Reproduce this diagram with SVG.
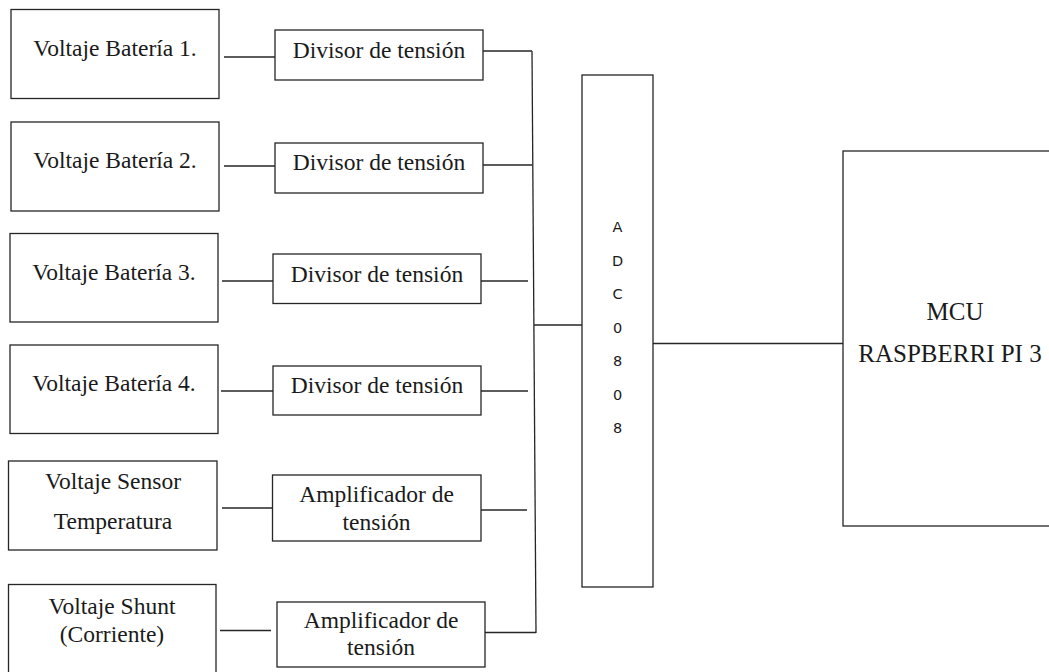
<svg xmlns="http://www.w3.org/2000/svg" width="1049" height="672" viewBox="0 0 1049 672">
<style>
.box{fill:#fff;stroke:#262626;stroke-width:1.3}
.t{font-family:"Liberation Serif","Times New Roman",serif;font-size:23.5px;fill:#1a1a1a;text-anchor:middle}
.adc{font-family:"DejaVu Sans","Liberation Sans",sans-serif;font-size:14.5px;fill:#1a1a1a;text-anchor:middle}
.ln{fill:none;stroke:#262626;stroke-width:1.3}
</style>
<rect width="1049" height="672" fill="#fff"/>
<g id="connectors">
<line class="ln" x1="224" y1="57" x2="275" y2="57"/>
<line class="ln" x1="224" y1="166" x2="275" y2="166"/>
<line class="ln" x1="222" y1="281" x2="273" y2="281"/>
<line class="ln" x1="221" y1="391" x2="273" y2="391"/>
<line class="ln" x1="222" y1="508" x2="272" y2="508"/>
<line class="ln" x1="220" y1="630.5" x2="271" y2="630.5"/>
<line class="ln" x1="483" y1="51" x2="532" y2="51"/>
<line class="ln" x1="483" y1="165" x2="532" y2="165"/>
<line class="ln" x1="481" y1="281" x2="528" y2="281"/>
<line class="ln" x1="481" y1="391" x2="528" y2="391"/>
<line class="ln" x1="481" y1="510" x2="527" y2="510"/>
<line class="ln" x1="485" y1="632.5" x2="536" y2="632.5"/>
<line class="ln" x1="532" y1="51" x2="536" y2="633"/>
<line class="ln" x1="534" y1="325" x2="582" y2="325"/>
<line class="ln" x1="653" y1="343.5" x2="843" y2="343.5"/>
</g>
<g id="v1"><rect class="box" x="11" y="9.5" width="208" height="89"/><text class="t" x="115" y="55.5">Voltaje Batería 1.</text></g>
<g id="v2"><rect class="box" x="11" y="122" width="208" height="89"/><text class="t" x="115" y="168">Voltaje Batería 2.</text></g>
<g id="v3"><rect class="box" x="10" y="233.5" width="208" height="88.5"/><text class="t" x="114" y="280">Voltaje Batería 3.</text></g>
<g id="v4"><rect class="box" x="10" y="345" width="208" height="88.5"/><text class="t" x="114" y="391">Voltaje Batería 4.</text></g>
<g id="vsensor"><rect class="box" x="8.5" y="461" width="208.5" height="89"/><text class="t" x="113" y="489">Voltaje Sensor</text><text class="t" x="113" y="528.5">Temperatura</text></g>
<g id="vshunt"><rect class="box" x="8.5" y="584.5" width="207.5" height="100"/><text class="t" x="112" y="613.5">Voltaje Shunt</text><text class="t" x="112" y="642">(Corriente)</text></g>
<g id="d1"><rect class="box" x="275" y="30" width="208" height="50"/><text class="t" x="379" y="57.5">Divisor de tensión</text></g>
<g id="d2"><rect class="box" x="275" y="143" width="208" height="50"/><text class="t" x="379" y="170">Divisor de tensión</text></g>
<g id="d3"><rect class="box" x="273" y="254" width="208" height="49.5"/><text class="t" x="377" y="281.5">Divisor de tensión</text></g>
<g id="d4"><rect class="box" x="273" y="366" width="208" height="49"/><text class="t" x="377" y="392.5">Divisor de tensión</text></g>
<g id="amp1"><rect class="box" x="272.5" y="475" width="208.5" height="66"/><text class="t" x="376.5" y="502">Amplificador de</text><text class="t" x="376.5" y="529.5">tensión</text></g>
<g id="amp2"><rect class="box" x="277" y="602" width="208" height="65"/><text class="t" x="381" y="628">Amplificador de</text><text class="t" x="381" y="655">tensión</text></g>
<g id="adc"><rect class="box" x="582" y="75" width="71" height="512"/>
<text class="adc" x="617.5" y="232">A</text>
<text class="adc" x="617.5" y="265.5">D</text>
<text class="adc" x="617.5" y="299">C</text>
<text class="adc" x="617.5" y="332.5">0</text>
<text class="adc" x="617.5" y="366">8</text>
<text class="adc" x="617.5" y="399.5">0</text>
<text class="adc" x="617.5" y="433">8</text></g>
<g id="mcu"><rect class="box" x="843" y="151" width="220" height="375"/><text class="t" x="955" y="320" style="font-size:25px">MCU</text><text class="t" x="950" y="361.5" style="font-size:25px">RASPBERRI PI 3</text></g>
</svg>
